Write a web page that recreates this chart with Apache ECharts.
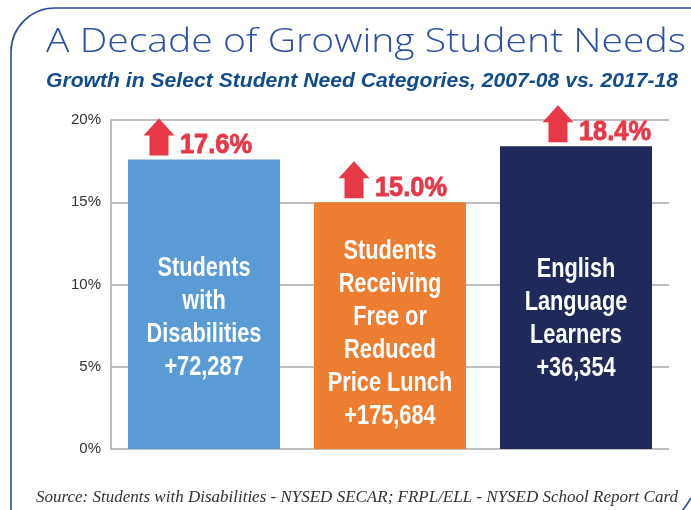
<!DOCTYPE html>
<html>
<head>
<meta charset="utf-8">
<script src="https://cdn.jsdelivr.net/npm/echarts@6/dist/echarts.min.js"></script>
<style>
  html, body { margin: 0; padding: 0; background: #fff; }
  #chart { width: 691px; height: 510px; }
</style>
</head>
<body>
<div id="chart"></div>
<script>
// chart data
const groups = ['Students\nwith\nDisabilities', 'Students\nReceiving\nFree or\nReduced\nPrice Lunch', 'English\nLanguage\nLearners'];
const growthPct = [17.6, 15.0, 18.4];
const addedStudents = [72287, 175684, 36354];
const yTicks = [0, 5, 10, 15, 20];

const titleText = 'A Decade of Growing Student Needs';
const subText = 'Growth in Select Student Need Categories, 2007-08 vs. 2017-18';
const sourceText = 'Source: Students with Disabilities - NYSED SECAR; FRPL/ELL - NYSED School Report Card';

// look
const barColors = ['#5b9bd5', '#ed7d31', '#1f2a5b'];
const red = '#e63846';
const arrowShift = [-45, -36, -18];
const textShift = [14, 8, 21];
const sans = '"Liberation Sans", Arial, sans-serif';

// squeeze text horizontally to mimic the condensed face of the original
const measureCtx = document.createElement('canvas').getContext('2d');
function fitScale(text, font, target) {
  measureCtx.font = font;
  return target / measureCtx.measureText(text).width;
}

const titleFont = '300 33px "Open Sans", Roboto, sans-serif';
const subFont = 'italic bold 20px ' + sans;
const innerFont = 'bold 27px ' + sans;
const pctFont = 'bold 27px ' + sans;
const innerScale = fitScale('Students', innerFont, 93);
const pctScale = fitScale('17.6%', pctFont, 72);

const chart = echarts.init(document.getElementById('chart'));

const option = {
  animation: false,
  title: {
    text: sourceText,
    left: 31, top: 484,
    textStyle: { fontFamily: '"Liberation Serif", serif', fontWeight: 'normal', fontStyle: 'italic', fontSize: 17, color: '#333' }
  },
  graphic: [
    {
      type: 'rect',
      shape: { x: 11, y: 8, width: 760, height: 600, r: [44, 0, 0, 0] },
      style: { fill: null, stroke: '#2a4a9a', lineWidth: 1.6 },
      silent: true
    },
    {
      type: 'bezierCurve',
      shape: { x1: 682, y1: 511, x2: 691, y2: 498, cpx1: 687, cpy1: 505 },
      style: { stroke: '#2a4a9a', lineWidth: 1.6, fill: null },
      silent: true
    },
    {
      type: 'text',
      x: 46, y: 43,
      scaleX: fitScale(titleText, titleFont, 640),
      style: { text: titleText, font: titleFont, fill: '#2d4fa3', verticalAlign: 'middle' },
      silent: true
    },
    {
      type: 'text',
      x: 46, y: 81,
      scaleX: fitScale(subText, subFont, 632),
      style: { text: subText, font: subFont, fill: '#124c8c', verticalAlign: 'middle' },
      silent: true
    }
  ],
  grid: { left: 111, right: 22, top: 120, bottom: 61 },
  xAxis: {
    type: 'category',
    data: groups,
    axisLine: { show: false },
    axisTick: { show: false },
    axisLabel: { show: false }
  },
  yAxis: {
    type: 'value',
    min: yTicks[0],
    max: yTicks[yTicks.length - 1],
    interval: 5,
    axisLine: { show: true, lineStyle: { color: '#aaa', width: 1.5 } },
    axisTick: { show: false },
    axisLabel: {
      formatter: '{value}%',
      margin: 10,
      fontFamily: sans,
      fontSize: 15,
      color: '#333'
    },
    splitLine: { lineStyle: { color: '#aaa', width: 1.5 } }
  },
  series: [
    {
      type: 'bar',
      data: growthPct.map(function (v, i) {
        return { value: v, itemStyle: { color: barColors[i] } };
      }),
      barWidth: 152
    },
    {
      type: 'custom',
      data: growthPct.map(function (v, i) { return [i, v]; }),
      encode: { x: 0, y: 1 },
      z: 5,
      renderItem: function (params, api) {
        const i = params.dataIndex;
        const val = api.value(1);
        const p = api.coord([api.value(0), val]);
        const base = api.coord([api.value(0), 0]);
        const cx = p[0] + arrowShift[i];
        const b = p[1] - 4;
        return {
          type: 'group',
          children: [
            {
              type: 'polygon',
              shape: {
                points: [
                  [cx, b - 37], [cx + 15.5, b - 20], [cx + 9.5, b - 20], [cx + 9.5, b],
                  [cx - 9.5, b], [cx - 9.5, b - 20], [cx - 15.5, b - 20]
                ]
              },
              style: { fill: red }
            },
            {
              type: 'text',
              x: cx + 21, y: b + 4,
              scaleX: pctScale,
              style: {
                text: val.toFixed(1) + '%',
                verticalAlign: 'bottom',
                fill: red,
                stroke: red,
                lineWidth: 0.8,
                font: pctFont
              }
            },
            {
              type: 'text',
              x: p[0], y: (p[1] + base[1]) / 2 + textShift[i],
              scaleX: innerScale,
              style: {
                text: groups[i] + '\n+' + addedStudents[i].toLocaleString('en-US'),
                align: 'center',
                verticalAlign: 'middle',
                lineHeight: 33,
                fill: '#fff',
                font: innerFont
              }
            }
          ]
        };
      }
    }
  ]
};

chart.setOption(option);
</script>
</body>
</html>
